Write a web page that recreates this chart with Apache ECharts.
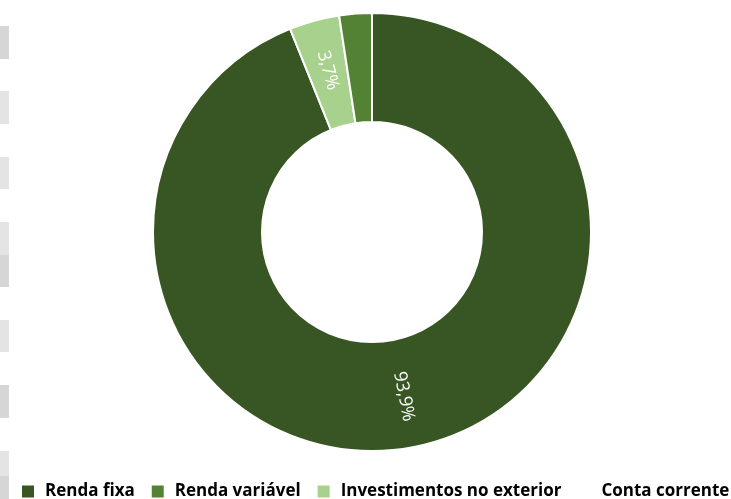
<!DOCTYPE html>
<html><head><meta charset="utf-8">
<script src="https://cdn.jsdelivr.net/npm/echarts@6/dist/echarts.min.js"></script>
<style>html,body{margin:0;padding:0;background:#fff}#c{width:731px;height:499px}</style>
</head><body><div id="c"></div>
<script>
const legendOrder = ['Renda fixa', 'Renda variável', 'Investimentos no exterior', 'Conta corrente'];
const sliceOrder = ['Renda fixa', 'Investimentos no exterior', 'Renda variável', 'Conta corrente'];
const sliceValues = [93.9, 3.7, 2.4, 0];
const sliceColors = ['#375623', '#a9d18e', '#548235', '#ffffff'];
const showLabel = [true, true, false, false];

const data = sliceOrder.map((n, i) => ({
  name: n, value: sliceValues[i],
  itemStyle: { color: sliceColors[i] },
  label: { show: showLabel[i] }
}));

const grayBlocks = [[26,33],[91,33],[157,32],[222,33],[255,32],[320,32],[385,33],[451,25],[476,23]];
const shades = ['#d6d6d6','#e4e4e4','#e4e4e4','#e4e4e4','#d6d6d6','#e4e4e4','#d6d6d6','#e4e4e4','#d6d6d6'];

const chart = echarts.init(document.getElementById('c'), null, { renderer: 'canvas' });
chart.setOption({
  animation: false,
  backgroundColor: '#fff',
  graphic: grayBlocks.map((b, i) => ({ type: 'rect', shape: { x: 0, y: b[0], width: 9, height: b[1] }, style: { fill: shades[i] }, silent: true })),
  legend: {
    data: legendOrder,
    top: 478, left: 15, width: 900,
    padding: [5, 0, 5, 5],
    itemWidth: 14, itemHeight: 14, itemGap: 15,
    icon: 'rect',
    textStyle: { fontFamily: 'Open Sans', fontWeight: 'bold', fontSize: 17, color: '#000', padding: [0, 0, 0, 5] }
  },
  series: [{
    type: 'pie',
    center: [372, 232],
    radius: [110, 219],
    startAngle: 90,
    clockwise: true,
    avoidLabelOverlap: false,
    itemStyle: { borderColor: '#fff', borderWidth: 2 },
    label: {
      position: 'inside',
      rotate: 'radial',
      color: '#fff',
      fontFamily: 'Open Sans',
      fontSize: 18,
      formatter: p => p.value.toFixed(1).replace('.', ',') + '%'
    },
    labelLine: { show: false },
    emphasis: { disabled: true },
    data: data
  }]
});
</script></body></html>
